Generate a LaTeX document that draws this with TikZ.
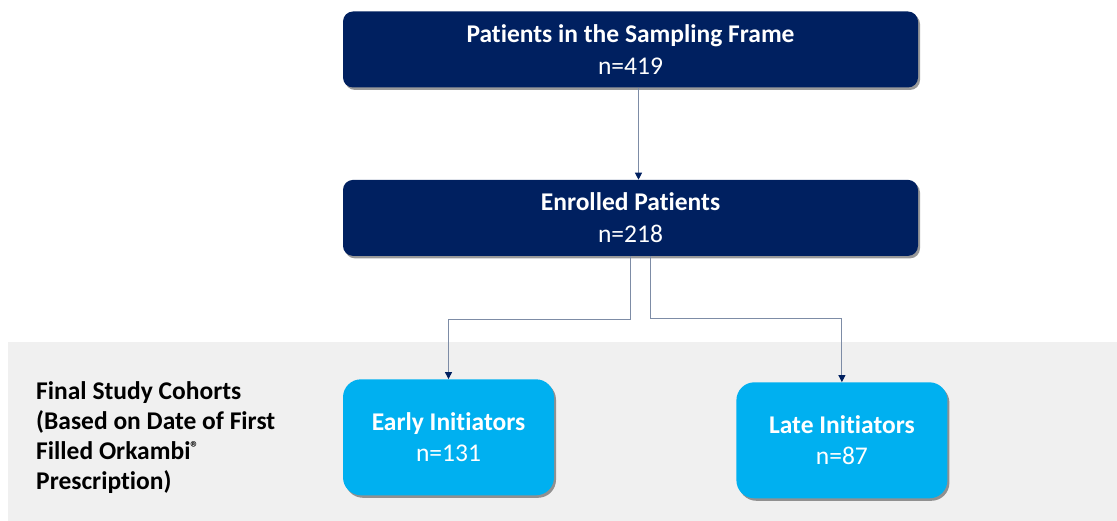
\documentclass[tikz,border=0pt]{standalone}
\usepackage{fontspec}
\setmainfont{Carlito}[Ligatures=NoCommon]
\usepackage{xcolor}
\definecolor{navy}{HTML}{002060}
\definecolor{cyanbox}{HTML}{00B0F0}
\definecolor{band}{HTML}{F0F0F0}
\definecolor{wire}{HTML}{7D8CA6}
\usetikzlibrary{arrows.meta,positioning,shadows,backgrounds}

\begin{document}
\begin{tikzpicture}[
  x=1pt, y=-1pt,
  stage/.style={
    rectangle, rounded corners=10pt, fill=navy, text=white,
    align=center, font=\fontsize{25.5}{32}\selectfont,
    minimum width=575pt, minimum height=76pt, inner sep=0pt,
    drop shadow={shadow xshift=2pt, shadow yshift=-2.5pt, opacity=0.4, fill=black}
  },
  cohort/.style={
    rectangle, rounded corners=18pt, fill=cyanbox, text=white,
    align=center, font=\fontsize{25.5}{31}\selectfont,
    minimum width=211pt, minimum height=116pt, inner sep=0pt,
    drop shadow={shadow xshift=2pt, shadow yshift=-2.5pt, opacity=0.4, fill=black}
  },
  arr/.style={-{Triangle[length=7pt,width=7pt,color=navy]}, wire, line width=1pt}
]
\useasboundingbox (0,0) rectangle (1117,521);

\node[stage] (frame) at (630.5,49.5) {\textbf{Patients in the Sampling Frame}\\n=419};
\node[stage, below=92pt of frame] (enrolled) {\textbf{Enrolled Patients}\\n=218};

\node[cohort, below=123pt of enrolled.south west, anchor=north west] (early) {\textbf{Early Initiators}\\n=131};
\node[cohort, right=182pt of early, yshift=-3pt] (late) {\textbf{Late Initiators}\\n=87};

\node[anchor=west, align=left, inner sep=0pt, font=\fontsize{25.5}{30}\selectfont\bfseries] (cohorts) at (36,438)
  {Final Study Cohorts\\(Based on Date of First\\Filled Orkambi{\fontsize{17}{17}\selectfont\raisebox{6pt}{\textregistered}}\\Prescription)};

\draw[arr] ([xshift=8pt]frame.south) -- ([xshift=8pt]frame.south |- enrolled.north);
\draw[arr] ([xshift=-0.5pt]enrolled.south) -- ++(0,63) -| (early.north);
\draw[arr] ([xshift=19.5pt]enrolled.south) -- ++(0,62) -| (late.north);

\begin{scope}[on background layer]
  \fill[band] (8,342) rectangle (1117,521);
\end{scope}

\end{tikzpicture}
\end{document}
